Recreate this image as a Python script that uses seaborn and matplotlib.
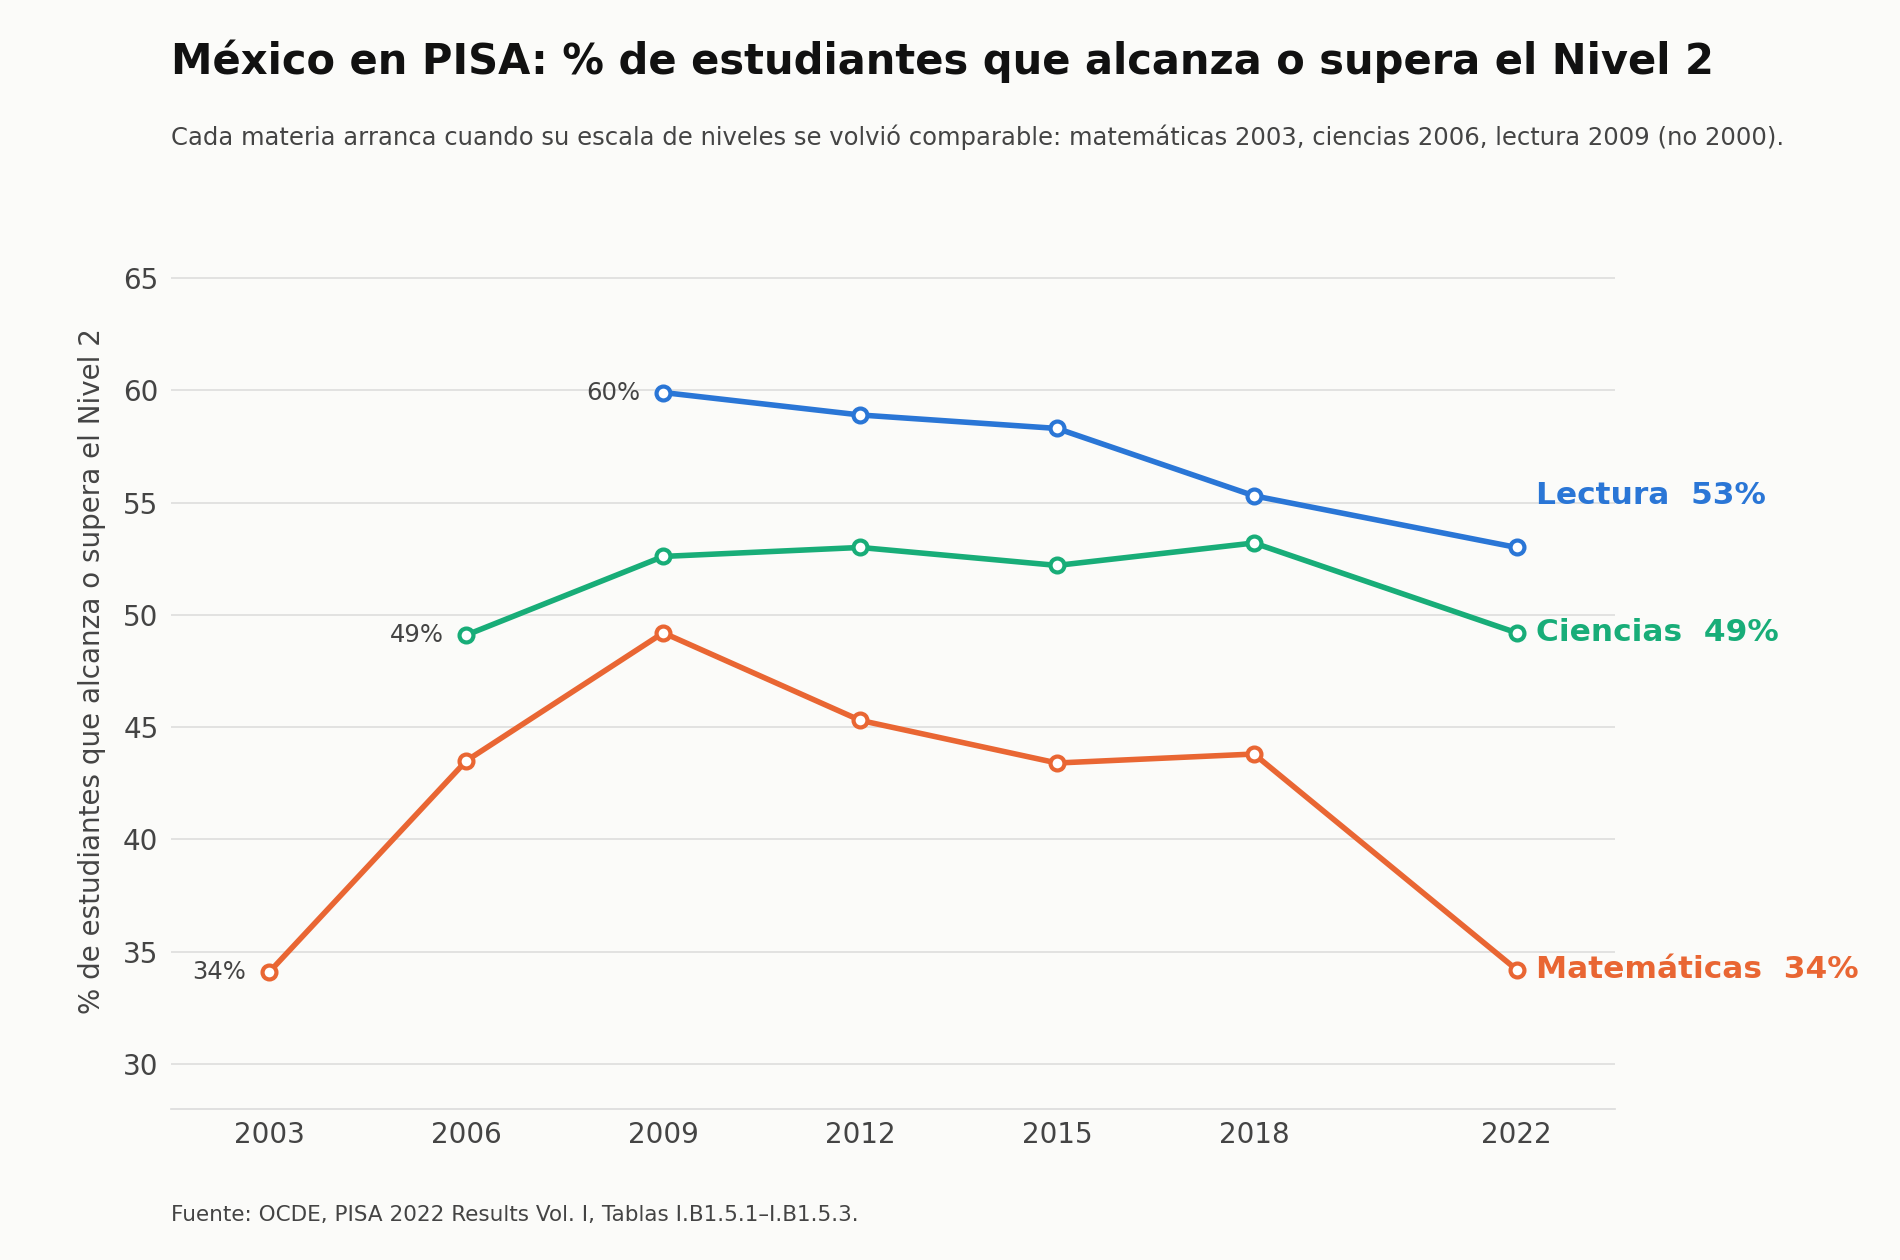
import matplotlib
matplotlib.use("Agg")
import matplotlib.pyplot as plt
import seaborn as sns
import pandas as pd

anios_lec = [2009, 2012, 2015, 2018, 2022]
lectura = [59.9, 58.9, 58.3, 55.3, 53.0]
anios_cie = [2006, 2009, 2012, 2015, 2018, 2022]
ciencias = [49.1, 52.6, 53.0, 52.2, 53.2, 49.2]
anios_mat = [2003, 2006, 2009, 2012, 2015, 2018, 2022]
matematicas = [34.1, 43.5, 49.2, 45.3, 43.4, 43.8, 34.2]

# nombre, años, valores, color, etiqueta final, etiqueta inicial, altura etiqueta final
series = [
    ("Lectura", anios_lec, lectura, "#2a76d6", "53%", "60%", 55.3),
    ("Ciencias", anios_cie, ciencias, "#18ad78", "49%", "49%", 49.2),
    ("Matemáticas", anios_mat, matematicas, "#e96633", "34%", "34%", 34.2),
]

sns.set_theme(style="white")
plt.rcParams["font.family"] = ["DejaVu Sans"]
fondo = "#fbfbf9"

fig = plt.figure(figsize=(19, 12.6), dpi=100, facecolor=fondo)
ax = fig.add_axes([0.09, 0.12, 0.76, 0.695])
ax.set_facecolor(fondo)

for nombre, x, y, color, fin, ini, y_fin in series:
    df = pd.DataFrame({"anio": x, "valor": y})
    sns.lineplot(data=df, x="anio", y="valor", ax=ax, color=color, linewidth=4,
                 marker="o", markersize=10, markerfacecolor="white",
                 markeredgecolor=color, markeredgewidth=3)
    ax.text(x[-1] + 0.3, y_fin, f"{nombre}  {fin}", color=color, fontsize=22.5,
            fontweight="bold", va="center", ha="left")
    ax.text(x[0] - 0.35, y[0], ini, color="#444444", fontsize=17.5, va="center", ha="right")

ax.set_xlim(2001.5, 2023.5)
ax.set_ylim(28, 67)
ax.set_xticks(anios_mat)
ax.set_yticks(range(30, 66, 5))
ax.tick_params(labelsize=20, colors="#444444", length=0, pad=9)
ax.grid(axis="y", color="#dddddd", linewidth=1.2)
for s in ["top", "right", "left"]:
    ax.spines[s].set_visible(False)
ax.spines["bottom"].set_color("#dddddd")
ax.set_xlabel("")
ax.set_ylabel("% de estudiantes que alcanza o supera el Nivel 2", fontsize=20,
              color="#444444", labelpad=12)

fig.text(0.09, 0.951, "México en PISA: % de estudiantes que alcanza o supera el Nivel 2",
         fontsize=30, fontweight="bold", color="#111111", va="center")
fig.text(0.09, 0.891, "Cada materia arranca cuando su escala de niveles se volvió comparable: "
         "matemáticas 2003, ciencias 2006, lectura 2009 (no 2000).",
         fontsize=17.5, color="#444444", va="center")
fig.text(0.09, 0.036, "Fuente: OCDE, PISA 2022 Results Vol. I, Tablas I.B1.5.1–I.B1.5.3.",
         fontsize=15.5, color="#444444", va="center")

fig.savefig("out.png", dpi=100, facecolor=fondo)
